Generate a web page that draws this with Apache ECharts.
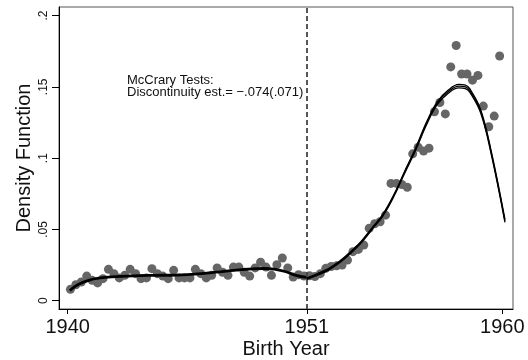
<!DOCTYPE html>
<html>
<head>
<meta charset="utf-8">
<script src="https://cdn.jsdelivr.net/npm/echarts@6/dist/echarts.min.js"></script>
<style>
  html, body { margin: 0; padding: 0; background: #fff; }
  #chart { width: 528px; height: 360px; }
</style>
</head>
<body>
<div id="chart"></div>
<script>
// Quarterly birth-year bins and their density estimates
const binYears = [
  1940.125, 1940.375, 1940.625, 1940.875, 1941.125, 1941.375, 1941.625, 1941.875,
  1942.125, 1942.375, 1942.625, 1942.875, 1943.125, 1943.375, 1943.625, 1943.875,
  1944.125, 1944.375, 1944.625, 1944.875, 1945.125, 1945.375, 1945.625, 1945.875,
  1946.125, 1946.375, 1946.625, 1946.875, 1947.125, 1947.375, 1947.625, 1947.875,
  1948.125, 1948.375, 1948.625, 1948.875, 1949.125, 1949.375, 1949.625, 1949.875,
  1950.125, 1950.375, 1950.625, 1950.875, 1951.125, 1951.375, 1951.625, 1951.875,
  1952.125, 1952.375, 1952.625, 1952.875, 1953.125, 1953.375, 1953.625, 1953.875,
  1954.125, 1954.375, 1954.625, 1954.875, 1955.125, 1955.375, 1955.625, 1955.875,
  1956.125, 1956.375, 1956.625, 1956.875, 1957.125, 1957.375, 1957.625, 1957.875,
  1958.125, 1958.375, 1958.625, 1958.875, 1959.125, 1959.375, 1959.625, 1959.875
];
const binDensity = [
  0.0080, 0.0112, 0.0131, 0.0173, 0.0143, 0.0125, 0.0155, 0.0220,
  0.0190, 0.0160, 0.0178, 0.0220, 0.0190, 0.0155, 0.0160, 0.0225,
  0.0190, 0.0173, 0.0155, 0.0213, 0.0160, 0.0160, 0.0160, 0.0220,
  0.0190, 0.0160, 0.0178, 0.0230, 0.0200, 0.0178, 0.0236, 0.0236,
  0.0200, 0.0173, 0.0230, 0.0270, 0.0236, 0.0178, 0.0253, 0.0300,
  0.0230, 0.0166, 0.0182, 0.0173, 0.0175, 0.0170, 0.0190, 0.0227,
  0.0240, 0.0245, 0.0250, 0.0285, 0.0344, 0.0360, 0.0390, 0.0508,
  0.0540, 0.0554, 0.0600, 0.0823, 0.0823, 0.0815, 0.0796, 0.1030,
  0.1076, 0.1050, 0.1070, 0.1325, 0.1390, 0.1310, 0.1640, 0.1790,
  0.1590, 0.1590, 0.1547, 0.1580, 0.1365, 0.1220, 0.1295, 0.1716
];

// Local-linear density fit, left of the cutoff
const leftFitYears = [1940.1, 1940.5, 1941, 1941.5, 1942, 1943, 1944, 1945, 1946,
  1947, 1948, 1948.5, 1949, 1949.5, 1950, 1950.5, 1951];
const leftFit = [0.0072, 0.0115, 0.0145, 0.0160, 0.0168, 0.0175, 0.0178, 0.0180, 0.0188,
  0.0203, 0.0218, 0.0224, 0.0226, 0.0222, 0.0205, 0.0178, 0.0163];

// Density fit and confidence bounds, right of the cutoff
const rightFitYears = [1951, 1951.5, 1952, 1952.5, 1953, 1953.5, 1954, 1954.5, 1955, 1955.5,
  1956, 1956.5, 1957, 1957.5, 1958, 1958.3, 1958.5, 1959, 1959.5, 1960.12];
const rightFit = [0.0155, 0.0185, 0.0220, 0.0270, 0.0335, 0.0410, 0.0505, 0.0600, 0.0735, 0.0900,
  0.1060, 0.1240, 0.1385, 0.1465, 0.1505, 0.1500, 0.1475, 0.1330, 0.1030, 0.0560];
const rightUpper = [0.0161, 0.0191, 0.0226, 0.0276, 0.0341, 0.0416, 0.0511, 0.0606, 0.0741, 0.0907,
  0.1068, 0.1249, 0.1395, 0.1476, 0.1517, 0.1512, 0.1487, 0.1342, 0.1041, 0.0570];
const rightLower = [0.0149, 0.0179, 0.0214, 0.0264, 0.0329, 0.0404, 0.0499, 0.0594, 0.0729, 0.0893,
  0.1052, 0.1231, 0.1375, 0.1454, 0.1493, 0.1488, 0.1463, 0.1318, 0.1019, 0.0550];

const cutoffYear = 1951;
const xTicks = [1940, 1951, 1960];
const yTicks = [0, 0.05, 0.1, 0.15, 0.2];
const yTickLabels = ['0', '.05', '.1', '.15', '.2'];

const zip = (xs, ys) => xs.map((x, i) => [x, ys[i]]);
const FONT = '"Liberation Sans", Arial, Helvetica, sans-serif';

const fitLine = (data, width, z) => ({
  type: 'line',
  data: data,
  smooth: 0.4,
  showSymbol: false,
  symbol: 'none',
  silent: true,
  z: z,
  lineStyle: { color: '#000', width: width }
});

const chart = echarts.init(document.getElementById('chart'), null, { renderer: 'canvas' });
chart.setOption({
  animation: false,
  backgroundColor: '#fff',
  grid: {
    left: 59, right: 15, top: 7, bottom: 51,
    outerBoundsMode: 'none',
    containLabel: false,
    show: true, borderColor: '#555', borderWidth: 1, backgroundColor: '#fff'
  },
  xAxis: {
    type: 'value',
    min: 1939.6, max: 1960.49,
    name: 'Birth Year',
    nameLocation: 'middle',
    nameGap: 30,
    nameMoveOverlap: false,
    nameTextStyle: { fontFamily: FONT, fontSize: 20, color: '#111' },
    axisLine: { show: true, onZero: false, lineStyle: { color: '#000', width: 1 } },
    axisTick: { show: true, length: 5, customValues: xTicks, lineStyle: { color: '#000' } },
    axisLabel: {
      customValues: xTicks, margin: 8,
      fontFamily: FONT, fontSize: 20, color: '#111',
      formatter: v => String(v)
    },
    splitLine: { show: false }
  },
  yAxis: {
    type: 'value',
    min: -0.0058, max: 0.206,
    name: 'Density Function',
    nameLocation: 'middle',
    nameGap: 25,
    nameMoveOverlap: false,
    nameTextStyle: { fontFamily: FONT, fontSize: 20, color: '#111' },
    axisLine: { show: true, onZero: false, lineStyle: { color: '#000', width: 1 } },
    axisTick: { show: true, length: 7, customValues: yTicks, lineStyle: { color: '#000' } },
    axisLabel: {
      customValues: yTicks, margin: 9, rotate: 90,
      fontFamily: FONT, fontSize: 12, color: '#111',
      formatter: v => {
        const i = yTicks.findIndex(t => Math.abs(t - v) < 1e-9);
        return i >= 0 ? yTickLabels[i] : '';
      }
    },
    splitLine: { show: false }
  },
  series: [
    {
      type: 'scatter',
      data: zip(binYears, binDensity),
      symbol: 'circle',
      symbolSize: 9,
      itemStyle: { color: '#666', opacity: 1 },
      silent: true,
      z: 2,
      markLine: {
        silent: true,
        symbol: ['none', 'none'],
        label: { show: false },
        lineStyle: { color: '#444', width: 1.8, type: [5, 3] },
        data: [{ xAxis: cutoffYear }]
      }
    },
    fitLine(zip(leftFitYears, leftFit), 2.8, 4),
    fitLine(zip(rightFitYears, rightUpper), 1.3, 4),
    fitLine(zip(rightFitYears, rightLower), 1.3, 4),
    fitLine(zip(rightFitYears, rightFit), 1.3, 5)
  ],
  graphic: [
    {
      type: 'text',
      left: 127, top: 74,
      silent: true,
      style: {
        text: 'McCrary Tests:\nDiscontinuity est.= \u2212.074(.071)',
        font: '13px ' + FONT,
        lineHeight: 11.5,
        fill: '#111'
      }
    }
  ]
});
</script>
</body>
</html>
